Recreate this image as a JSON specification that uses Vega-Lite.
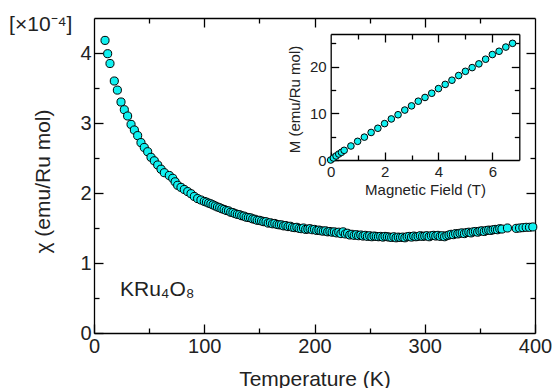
{
  "$schema": "https://vega.github.io/schema/vega-lite/v6.json",
  "width": 441,
  "height": 315,
  "autosize": {"type": "none"},
  "padding": {"left": 94, "top": 18, "right": 17, "bottom": 55},
  "background": "white",
  "config": {
    "view": {"stroke": null},
    "axis": {
      "grid": false,
      "domainColor": "black",
      "domainWidth": 1.3,
      "tickColor": "black",
      "tickWidth": 1.3,
      "labelFont": "Liberation Sans",
      "titleFont": "Liberation Sans",
      "labelColor": "#222222",
      "titleColor": "#222222",
      "titleFontWeight": "normal",
      "labelFlush": false,
      "labelOverlap": false
    }
  },
  "datasets": {
    "chi": [
      {"T": 10, "chi": 4.18}, {"T": 12.4, "chi": 3.99}, {"T": 14.5, "chi": 3.85}, {"T": 18.4, "chi": 3.6},
      {"T": 21.2, "chi": 3.47}, {"T": 24.5, "chi": 3.3}, {"T": 27.5, "chi": 3.19}, {"T": 30.5, "chi": 3.1},
      {"T": 33.6, "chi": 2.98}, {"T": 36.6, "chi": 2.9}, {"T": 39.6, "chi": 2.82}, {"T": 42.6, "chi": 2.72},
      {"T": 45.6, "chi": 2.65}, {"T": 48.7, "chi": 2.59}, {"T": 51.7, "chi": 2.51}, {"T": 54.7, "chi": 2.46},
      {"T": 57.8, "chi": 2.4}, {"T": 60.8, "chi": 2.34}, {"T": 63.8, "chi": 2.29}, {"T": 68.3, "chi": 2.25},
      {"T": 71.4, "chi": 2.21}, {"T": 73.6, "chi": 2.16}, {"T": 75.9, "chi": 2.11}, {"T": 78.9, "chi": 2.08},
      {"T": 81.9, "chi": 2.05}, {"T": 85, "chi": 2.02}, {"T": 88, "chi": 1.99}, {"T": 91, "chi": 1.95},
      {"T": 94, "chi": 1.92}, {"T": 97, "chi": 1.9}, {"T": 100, "chi": 1.88},
      {"T": 102, "chi": 1.87}, {"T": 104, "chi": 1.855}, {"T": 106, "chi": 1.845}, {"T": 108, "chi": 1.83},
      {"T": 110, "chi": 1.815}, {"T": 112, "chi": 1.8}, {"T": 114, "chi": 1.79}, {"T": 116, "chi": 1.775},
      {"T": 118, "chi": 1.765}, {"T": 120, "chi": 1.75}, {"T": 122, "chi": 1.745}, {"T": 124, "chi": 1.725},
      {"T": 126, "chi": 1.72}, {"T": 128, "chi": 1.705}, {"T": 130, "chi": 1.695}, {"T": 132, "chi": 1.69},
      {"T": 134, "chi": 1.675}, {"T": 136, "chi": 1.67}, {"T": 138, "chi": 1.655}, {"T": 140, "chi": 1.65},
      {"T": 142, "chi": 1.645}, {"T": 144, "chi": 1.63}, {"T": 146, "chi": 1.625}, {"T": 148, "chi": 1.61},
      {"T": 150, "chi": 1.61}, {"T": 152, "chi": 1.6}, {"T": 154, "chi": 1.59}, {"T": 156, "chi": 1.59},
      {"T": 158, "chi": 1.57}, {"T": 160, "chi": 1.575}, {"T": 162, "chi": 1.56}, {"T": 164, "chi": 1.565},
      {"T": 166, "chi": 1.55}, {"T": 168, "chi": 1.545}, {"T": 170, "chi": 1.545}, {"T": 172, "chi": 1.53},
      {"T": 174, "chi": 1.535}, {"T": 176, "chi": 1.52}, {"T": 178, "chi": 1.525}, {"T": 180, "chi": 1.51},
      {"T": 182, "chi": 1.505}, {"T": 184, "chi": 1.51}, {"T": 186, "chi": 1.495}, {"T": 188, "chi": 1.49},
      {"T": 190, "chi": 1.5}, {"T": 192, "chi": 1.48}, {"T": 194, "chi": 1.485}, {"T": 196, "chi": 1.49},
      {"T": 198, "chi": 1.475}, {"T": 200, "chi": 1.48}, {"T": 202, "chi": 1.465}, {"T": 204, "chi": 1.47},
      {"T": 206, "chi": 1.46}, {"T": 208, "chi": 1.455}, {"T": 210, "chi": 1.46}, {"T": 212, "chi": 1.445},
      {"T": 214, "chi": 1.45}, {"T": 216, "chi": 1.44}, {"T": 218, "chi": 1.445}, {"T": 220, "chi": 1.43},
      {"T": 222, "chi": 1.44}, {"T": 224, "chi": 1.42}, {"T": 226, "chi": 1.445}, {"T": 228, "chi": 1.415},
      {"T": 230, "chi": 1.425}, {"T": 232, "chi": 1.4}, {"T": 234, "chi": 1.41}, {"T": 236, "chi": 1.395},
      {"T": 238, "chi": 1.405}, {"T": 240, "chi": 1.39}, {"T": 242, "chi": 1.4}, {"T": 244, "chi": 1.385},
      {"T": 246, "chi": 1.395}, {"T": 248, "chi": 1.38}, {"T": 250, "chi": 1.39}, {"T": 252, "chi": 1.375},
      {"T": 254, "chi": 1.385}, {"T": 256, "chi": 1.38}, {"T": 258, "chi": 1.375}, {"T": 260, "chi": 1.38},
      {"T": 262, "chi": 1.37}, {"T": 264, "chi": 1.38}, {"T": 266, "chi": 1.375}, {"T": 268, "chi": 1.37},
      {"T": 270, "chi": 1.365}, {"T": 272, "chi": 1.375}, {"T": 274, "chi": 1.36}, {"T": 276, "chi": 1.37},
      {"T": 278, "chi": 1.365}, {"T": 280, "chi": 1.37}, {"T": 282, "chi": 1.36}, {"T": 284, "chi": 1.375},
      {"T": 286, "chi": 1.38}, {"T": 288, "chi": 1.37}, {"T": 290, "chi": 1.385}, {"T": 292, "chi": 1.375},
      {"T": 294, "chi": 1.38}, {"T": 296, "chi": 1.39}, {"T": 298, "chi": 1.38}, {"T": 300, "chi": 1.385},
      {"T": 302, "chi": 1.39}, {"T": 304, "chi": 1.375}, {"T": 306, "chi": 1.39}, {"T": 308, "chi": 1.395},
      {"T": 310, "chi": 1.385}, {"T": 312, "chi": 1.395}, {"T": 314, "chi": 1.38}, {"T": 316, "chi": 1.39},
      {"T": 318, "chi": 1.375}, {"T": 320, "chi": 1.39}, {"T": 322, "chi": 1.4}, {"T": 324, "chi": 1.41},
      {"T": 326, "chi": 1.405}, {"T": 328, "chi": 1.42}, {"T": 330, "chi": 1.415}, {"T": 332, "chi": 1.425},
      {"T": 334, "chi": 1.43}, {"T": 336, "chi": 1.42}, {"T": 338, "chi": 1.435}, {"T": 340, "chi": 1.44},
      {"T": 342, "chi": 1.43}, {"T": 344, "chi": 1.445}, {"T": 346, "chi": 1.45}, {"T": 348, "chi": 1.44},
      {"T": 350, "chi": 1.455}, {"T": 352, "chi": 1.46}, {"T": 354, "chi": 1.45}, {"T": 356, "chi": 1.465},
      {"T": 358, "chi": 1.47}, {"T": 360, "chi": 1.465}, {"T": 362, "chi": 1.475}, {"T": 364, "chi": 1.48},
      {"T": 366, "chi": 1.475}, {"T": 368, "chi": 1.49}, {"T": 370, "chi": 1.485},
      {"T": 375, "chi": 1.5}, {"T": 383, "chi": 1.495}, {"T": 386, "chi": 1.5}, {"T": 389, "chi": 1.505},
      {"T": 392, "chi": 1.51}, {"T": 395, "chi": 1.51}, {"T": 398, "chi": 1.515}
    ],
    "mag": [
      {"H": 0, "M": 0}, {"H": 0.1, "M": 0.43}, {"H": 0.2, "M": 0.86}, {"H": 0.3, "M": 1.28},
      {"H": 0.4, "M": 1.64}, {"H": 0.5, "M": 2.07}, {"H": 0.75, "M": 3.0}, {"H": 1.0, "M": 4.0},
      {"H": 1.25, "M": 4.9}, {"H": 1.5, "M": 5.9}, {"H": 1.75, "M": 6.8}, {"H": 2.0, "M": 7.8},
      {"H": 2.25, "M": 8.8}, {"H": 2.5, "M": 9.7}, {"H": 2.75, "M": 10.7}, {"H": 3.0, "M": 11.6},
      {"H": 3.25, "M": 12.6}, {"H": 3.5, "M": 13.4}, {"H": 3.75, "M": 14.3}, {"H": 4.0, "M": 15.3},
      {"H": 4.25, "M": 16.2}, {"H": 4.5, "M": 17.1}, {"H": 4.75, "M": 18.1}, {"H": 5.0, "M": 19.0},
      {"H": 5.25, "M": 19.8}, {"H": 5.5, "M": 20.6}, {"H": 5.75, "M": 21.6}, {"H": 6.0, "M": 22.6},
      {"H": 6.25, "M": 23.3}, {"H": 6.5, "M": 24.2}, {"H": 6.75, "M": 25.0}
    ],
    "labels": [
      {"T": 23.6, "chi": 0.53, "label": "KRu₄O₈"},
      {"T": -77, "chi": 4.31, "label": "[×10⁻⁴]"}
    ]
  },
  "layer": [
    {
      "data": {"name": "chi"},
      "mark": {"type": "point", "shape": "circle", "filled": true, "fill": "#10F0F0", "stroke": "black", "strokeWidth": 1, "size": 66, "opacity": 1},
      "encoding": {
        "x": {"field": "T", "type": "quantitative", "scale": {"domain": [0, 400], "nice": false},
          "axis": {"orient": "bottom", "values": [0, 100, 200, 300, 400], "tickSize": -9, "labelPadding": 12, "labelFontSize": 20,
            "title": "Temperature (K)", "titleFontSize": 21, "titleY": 52, "titleBaseline": "alphabetic"}},
        "y": {"field": "chi", "type": "quantitative", "scale": {"domain": [0, 4.5], "nice": false},
          "axis": {"orient": "left", "values": [0, 1, 2, 3, 4], "tickSize": -9, "labelPadding": 12, "labelFontSize": 20,
            "title": "χ (emu/Ru mol)", "titleFontSize": 21, "titleX": -45, "titleY": 163, "titleBaseline": "alphabetic", "titleAngle": -90}}
      }
    },
    {
      "data": {"name": "chi"},
      "mark": {"type": "point", "opacity": 0},
      "encoding": {
        "x": {"field": "T", "type": "quantitative", "scale": {"domain": [0, 400], "nice": false},
          "axis": {"orient": "bottom", "values": [50, 150, 250, 350], "tickSize": -5, "labels": false, "domain": false, "title": null}},
        "y": {"field": "chi", "type": "quantitative", "scale": {"domain": [0, 4.5], "nice": false},
          "axis": {"orient": "left", "values": [0.5, 1.5, 2.5, 3.5], "tickSize": -5, "labels": false, "domain": false, "title": null}}
      }
    },
    {
      "data": {"name": "chi"},
      "mark": {"type": "point", "opacity": 0},
      "encoding": {
        "x": {"field": "T", "type": "quantitative", "scale": {"domain": [0, 400], "nice": false},
          "axis": {"orient": "top", "values": [100, 200, 300], "tickSize": -9, "labels": false, "title": null}},
        "y": {"field": "chi", "type": "quantitative", "scale": {"domain": [0, 4.5], "nice": false},
          "axis": {"orient": "right", "values": [1, 2, 3, 4], "tickSize": -9, "labels": false, "title": null}}
      }
    },
    {
      "data": {"name": "chi"},
      "mark": {"type": "point", "opacity": 0},
      "encoding": {
        "x": {"field": "T", "type": "quantitative", "scale": {"domain": [0, 400], "nice": false},
          "axis": {"orient": "top", "values": [50, 150, 250, 350], "tickSize": -5, "labels": false, "domain": false, "title": null}},
        "y": {"field": "chi", "type": "quantitative", "scale": {"domain": [0, 4.5], "nice": false},
          "axis": {"orient": "right", "values": [0.5, 1.5, 2.5, 3.5], "tickSize": -5, "labels": false, "domain": false, "title": null}}
      }
    },
    {
      "data": {"name": "mag"},
      "mark": {"type": "point", "shape": "circle", "filled": true, "fill": "#10F0F0", "stroke": "black", "strokeWidth": 1, "size": 44, "opacity": 1},
      "encoding": {
        "x": {"field": "H", "type": "quantitative", "scale": {"domain": [0, 7], "nice": false, "range": [236.7, 425.3]},
          "axis": {"orient": "bottom", "offset": -173, "values": [0, 2, 4, 6], "tickSize": -8, "labelPadding": 12, "labelFontSize": 15,
            "title": "Magnetic Field (T)", "titleFontSize": 15, "titleY": 34, "titleBaseline": "alphabetic"}},
        "y": {"field": "M", "type": "quantitative", "scale": {"domain": [0, 27], "nice": false, "range": [142, 16]},
          "axis": {"orient": "left", "offset": -236.7, "values": [0, 10, 20], "tickSize": -8, "labelPadding": 12.5, "labelFontSize": 15,
            "title": "M (emu/Ru mol)", "titleFontSize": 15, "titleX": -31, "titleY": 81, "titleBaseline": "alphabetic", "titleAngle": -90}}
      }
    },
    {
      "data": {"name": "mag"},
      "mark": {"type": "point", "opacity": 0},
      "encoding": {
        "x": {"field": "H", "type": "quantitative", "scale": {"domain": [0, 7], "nice": false, "range": [236.7, 425.3]},
          "axis": {"orient": "bottom", "offset": -173, "values": [1, 3, 5], "tickSize": -5, "labels": false, "domain": false, "title": null}},
        "y": {"field": "M", "type": "quantitative", "scale": {"domain": [0, 27], "nice": false, "range": [142, 16]},
          "axis": {"orient": "left", "offset": -236.7, "values": [5, 15, 25], "tickSize": -5, "labels": false, "domain": false, "title": null}}
      }
    },
    {
      "data": {"name": "mag"},
      "mark": {"type": "point", "opacity": 0},
      "encoding": {
        "x": {"field": "H", "type": "quantitative", "scale": {"domain": [0, 7], "nice": false, "range": [236.7, 425.3]},
          "axis": {"orient": "top", "offset": -16, "values": [2, 4, 6], "tickSize": -8, "labels": false, "title": null}},
        "y": {"field": "M", "type": "quantitative", "scale": {"domain": [0, 27], "nice": false, "range": [142, 16]},
          "axis": {"orient": "right", "offset": -15.7, "values": [10, 20], "tickSize": -8, "labels": false, "title": null}}
      }
    },
    {
      "data": {"name": "mag"},
      "mark": {"type": "point", "opacity": 0},
      "encoding": {
        "x": {"field": "H", "type": "quantitative", "scale": {"domain": [0, 7], "nice": false, "range": [236.7, 425.3]},
          "axis": {"orient": "top", "offset": -16, "values": [1, 3, 5], "tickSize": -5, "labels": false, "domain": false, "title": null}},
        "y": {"field": "M", "type": "quantitative", "scale": {"domain": [0, 27], "nice": false, "range": [142, 16]},
          "axis": {"orient": "right", "offset": -15.7, "values": [5, 15, 25], "tickSize": -5, "labels": false, "domain": false, "title": null}}
      }
    },
    {
      "data": {"name": "labels"},
      "mark": {"type": "text", "align": "left", "baseline": "alphabetic", "font": "Liberation Sans", "fontSize": 21, "color": "#222222"},
      "encoding": {
        "x": {"field": "T", "type": "quantitative", "scale": {"domain": [0, 400], "nice": false}, "axis": null},
        "y": {"field": "chi", "type": "quantitative", "scale": {"domain": [0, 4.5], "nice": false}, "axis": null},
        "text": {"field": "label"}
      }
    }
  ],
  "resolve": {
    "scale": {"x": "independent", "y": "independent"},
    "axis": {"x": "independent", "y": "independent"}
  }
}
